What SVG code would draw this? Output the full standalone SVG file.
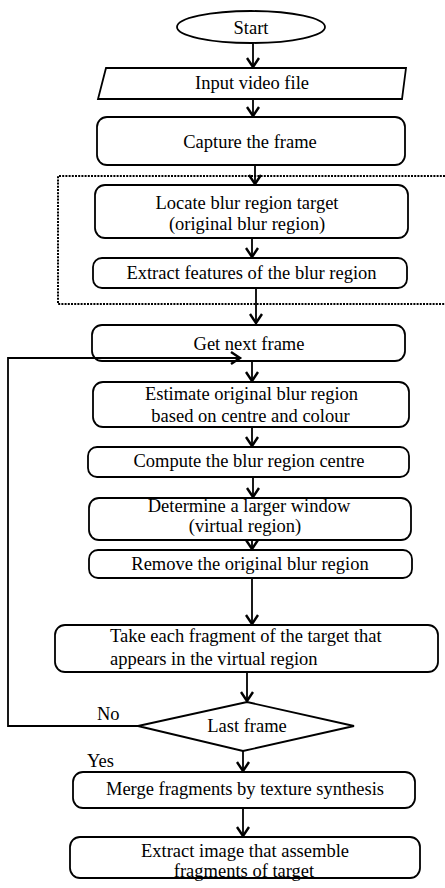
<svg xmlns="http://www.w3.org/2000/svg" width="445" height="888" viewBox="0 0 445 888">
  <defs>
    <marker id="arrow" markerUnits="userSpaceOnUse" markerWidth="14" markerHeight="16" viewBox="-12 -8 14 16" refX="0" refY="0" orient="auto" overflow="visible">
      <path d="M-10,-6 L-1,0 L-10,6" fill="none" stroke="#000" stroke-width="2.4"/>
    </marker>
    <style>
      .box { fill: #fff; stroke: #000; stroke-width: 1.8; }
      .flow { fill: none; stroke: #000; stroke-width: 1.8; marker-end: url(#arrow); }
      .frame { fill: none; stroke: #000; stroke-width: 2; stroke-dasharray: 2 1.2; }
      text { font-family: "Liberation Serif", "DejaVu Serif", "Times New Roman", serif; font-size: 18.5px; fill: #000; }
      .c { text-anchor: middle; }
    </style>
  </defs>
  <rect width="445" height="888" fill="#fff"/>

  <!-- dotted frame around the initial target set-up steps -->
  <path id="setup-frame" class="frame" d="M445,176 H58 V304 H445"/>

  <!-- connectors -->
  <g id="connectors">
    <line class="flow" x1="253" y1="43" x2="253" y2="68"/>
    <line class="flow" x1="253" y1="99" x2="253" y2="117"/>
    <line class="flow" x1="255" y1="165" x2="255" y2="185"/>
    <line class="flow" x1="252" y1="238" x2="252" y2="258"/>
    <line class="flow" x1="256" y1="288" x2="256" y2="324"/>
    <line class="flow" x1="252" y1="361" x2="252" y2="382"/>
    <line class="flow" x1="252" y1="427" x2="252" y2="447"/>
    <line class="flow" x1="253" y1="477" x2="253" y2="498"/>
    <line class="flow" x1="252" y1="540" x2="252" y2="550"/>
    <line class="flow" x1="252" y1="578" x2="252" y2="625"/>
    <line class="flow" x1="247" y1="672" x2="247" y2="702"/>
    <line class="flow" x1="243" y1="751" x2="243" y2="772"/>
    <line class="flow" x1="243" y1="808" x2="243" y2="837"/>
  </g>

  <g id="start">
    <ellipse class="box" cx="251" cy="27" rx="74" ry="16"/>
    <text class="c" x="251" y="34" font-family="Liberation Serif, serif">Start</text>
  </g>
  <g id="input">
    <polygon class="box" points="106,68 406,68 402,99 98,99"/>
    <text class="c" x="252" y="88.5">Input video file</text>
  </g>
  <g id="capture">
    <rect class="box" x="97" y="117" width="308" height="48" rx="10"/>
    <text class="c" x="250" y="148">Capture the frame</text>
  </g>
  <g id="locate">
    <rect class="box" x="95" y="185" width="313" height="53" rx="10"/>
    <text class="c" x="247" y="208.5">Locate blur region target</text>
    <text class="c" x="247" y="229.5">(original blur region)</text>
  </g>
  <g id="extract-features">
    <rect class="box" x="93" y="258" width="314" height="30" rx="9"/>
    <text class="c" x="251.5" y="278.5">Extract features of the blur region</text>
  </g>
  <g id="next-frame">
    <rect class="box" x="92" y="325" width="313" height="36" rx="10"/>
    <text class="c" x="249" y="350">Get next frame</text>
  </g>
  <g id="estimate">
    <rect class="box" x="93" y="382" width="316" height="45" rx="10"/>
    <text class="c" x="251.5" y="400">Estimate original blur region</text>
    <text class="c" x="250.5" y="421.5">based on centre and colour</text>
  </g>
  <g id="compute">
    <rect class="box" x="88" y="447" width="321" height="30" rx="9"/>
    <text class="c" x="249" y="467">Compute the blur region centre</text>
  </g>
  <g id="window">
    <rect class="box" x="89" y="498" width="322" height="42" rx="10"/>
    <text class="c" x="249" y="512">Determine a larger window</text>
    <text class="c" x="245" y="532">(virtual region)</text>
  </g>
  <g id="remove">
    <rect class="box" x="89" y="550" width="323" height="28" rx="9"/>
    <text class="c" x="250" y="570">Remove the original blur region</text>
  </g>
  <g id="fragments">
    <rect class="box" x="55" y="625" width="383" height="47" rx="10"/>
    <text x="110" y="642">Take each fragment of the target that</text>
    <text x="110" y="665">appears in the virtual region</text>
  </g>
  <g id="last-frame">
    <polygon class="box" points="247,702 354,726 243,751 138,726"/>
    <text class="c" x="247" y="732">Last frame</text>
    <text x="97" y="720">No</text>
    <text x="87" y="767">Yes</text>
  </g>
  <g id="merge">
    <rect class="box" x="73" y="772" width="342" height="36" rx="10"/>
    <text class="c" x="245" y="795">Merge fragments by texture synthesis</text>
  </g>
  <g id="extract-image">
    <rect class="box" x="70" y="837" width="350" height="41" rx="10"/>
    <text class="c" x="245" y="857">Extract image that assemble</text>
    <text class="c" x="244" y="877">fragments of target</text>
  </g>

  <!-- "No" branch loops back to the next frame, drawn over the box edge -->
  <polyline id="loop-back" class="flow" points="138,726 8,726 8,358 241,358"/>
</svg>
